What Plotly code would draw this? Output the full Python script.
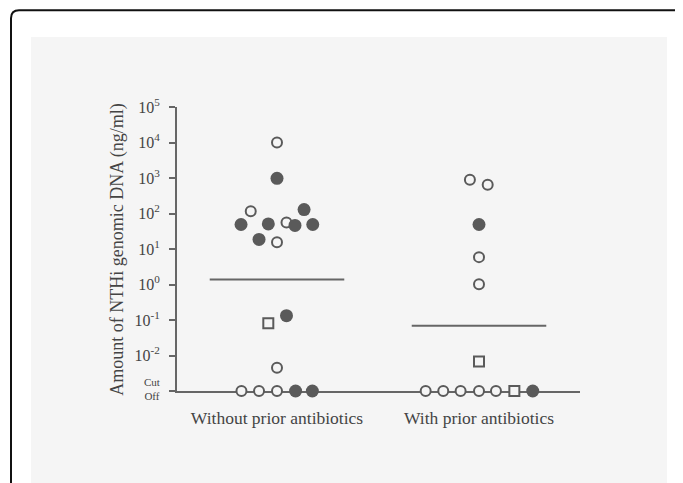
import plotly.graph_objects as go

# ---------------- data (ng/ml; 0.001 = below cut-off) ----------------
CUTOFF = 0.001
groups = ["Without prior antibiotics", "With prior antibiotics"]
group_pos = [1, 2]

# Without prior antibiotics
without_open_vals = [10000, 115, 56, 15.5, 0.0045, CUTOFF, CUTOFF, CUTOFF]
without_open_dx = [0.0, -0.13, 0.047, 0.0, 0.0, -0.176, -0.089, 0.0]
without_filled_vals = [980, 49, 51, 46, 129, 49, 18.6, 0.132, CUTOFF, CUTOFF]
without_filled_dx = [0.0, -0.178, -0.043, 0.089, 0.134, 0.177, -0.089, 0.047, 0.092, 0.175]
without_square_vals = [0.081]
without_square_dx = [-0.043]
without_mean = 1.38

# With prior antibiotics
with_open_vals = [890, 650, 5.9, 1.02, CUTOFF, CUTOFF, CUTOFF, CUTOFF, CUTOFF]
with_open_dx = [-0.045, 0.043, 0.0, 0.0, -0.264, -0.177, -0.091, 0.0, 0.084]
with_filled_vals = [49, CUTOFF]
with_filled_dx = [0.0, 0.266]
with_square_vals = [0.0068, CUTOFF]
with_square_dx = [0.0, 0.175]
with_mean = 0.069

mean_halfwidth = 0.333

tick_vals = [1e-3, 1e-2, 1e-1, 1e0, 1e1, 1e2, 1e3, 1e4, 1e5]
tick_text = ["", "10<sup>-2</sup>", "10<sup>-1</sup>", "10<sup>0</sup>", "10<sup>1</sup>",
             "10<sup>2</sup>", "10<sup>3</sup>", "10<sup>4</sup>", "10<sup>5</sup>"]
cutoff_label = "Cut<br>Off"
y_title = "Amount of NTHi genomic DNA (ng/ml)"

# ---------------- layout geometry (page has an 8px body margin) ----------------
OFF = 8
W, H = 683 - OFF, 483 - OFF
L, R, T, B = 177 - OFF, 580 - OFF, 107 - OFF, 391.5 - OFF
PW, PH = R - L, B - T

def px(x):  # page pixel -> paper x
    return (x - OFF - L) / PW

def py(y):  # page pixel -> paper y
    return (B - (y - OFF)) / PH

GRAY = "#5a5a5a"
BG = "#f5f5f5"
TXT = "#444444"
FONT = "Liberation Serif, Times New Roman, serif"

fig = go.Figure()

def add_marks(vals, dx, center, symbol, filled, size):
    fig.add_trace(go.Scatter(
        x=[center + d for d in dx], y=vals, mode="markers",
        marker=dict(symbol=symbol, size=size,
                    color=GRAY if filled else BG,
                    line=dict(color=GRAY, width=0 if filled else 2)),
        cliponaxis=False, showlegend=False, hoverinfo="skip"))

for center, mean in zip(group_pos, [without_mean, with_mean]):
    fig.add_trace(go.Scatter(
        x=[center - mean_halfwidth, center + mean_halfwidth], y=[mean, mean],
        mode="lines", line=dict(color="#666666", width=2),
        showlegend=False, hoverinfo="skip"))

add_marks(without_open_vals, without_open_dx, group_pos[0], "circle", False, 10)
add_marks(without_filled_vals, without_filled_dx, group_pos[0], "circle", True, 13)
add_marks(without_square_vals, without_square_dx, group_pos[0], "square", False, 10)
add_marks(with_open_vals, with_open_dx, group_pos[1], "circle", False, 10)
add_marks(with_filled_vals, with_filled_dx, group_pos[1], "circle", True, 13)
add_marks(with_square_vals, with_square_dx, group_pos[1], "square", False, 10)

shapes = [
    # gray panel
    dict(type="rect", xref="paper", yref="paper", layer="below",
         x0=px(31), x1=px(667), y0=py(37), y1=py(495),
         fillcolor=BG, line=dict(width=0)),
    # rounded frame
    dict(type="path", xref="paper", yref="paper", layer="above",
         path=f"M {px(11)},{py(495)} L {px(11)},{py(18)} Q {px(11)},{py(10)} {px(19)},{py(10)} L {px(700)},{py(10)}",
         line=dict(color="#111111", width=2)),
]

annotations = [
    dict(text=y_title, xref="paper", yref="paper",
         x=px(118), y=py(250), xanchor="center", yanchor="middle",
         textangle=-90, showarrow=False,
         font=dict(family=FONT, size=18, color=TXT)),
    dict(text=cutoff_label, xref="paper", yref="paper",
         x=px(152), y=py(389), xanchor="center", yanchor="middle",
         showarrow=False, borderpad=0,
         font=dict(family=FONT, size=11, color=TXT)),
]

fig.update_layout(
    width=W, height=H,
    margin=dict(l=L, r=W - R, t=T, b=H - B, pad=0),
    paper_bgcolor="white", plot_bgcolor="rgba(0,0,0,0)",
    font=dict(family=FONT, size=16, color=TXT),
    shapes=shapes,
    annotations=annotations,
    xaxis=dict(range=[1 - 100 / 202, 2 + 101 / 202], showgrid=False, zeroline=False,
               showline=True, linecolor="#666666", linewidth=2, layer="below traces",
               tickvals=group_pos, ticktext=groups, ticks="",
               ticklabelstandoff=10, tickfont=dict(size=17.5)),
    yaxis=dict(type="log", range=[-3, 5], showgrid=False, zeroline=False,
               showline=True, linecolor="#666666", linewidth=2, layer="below traces",
               tickvals=tick_vals, ticktext=tick_text, ticks="outside",
               ticklen=6, tickwidth=2, tickcolor="#666666",
               ticklabelstandoff=6, tickfont=dict(size=16)),
)

fig.write_html("out.html")
